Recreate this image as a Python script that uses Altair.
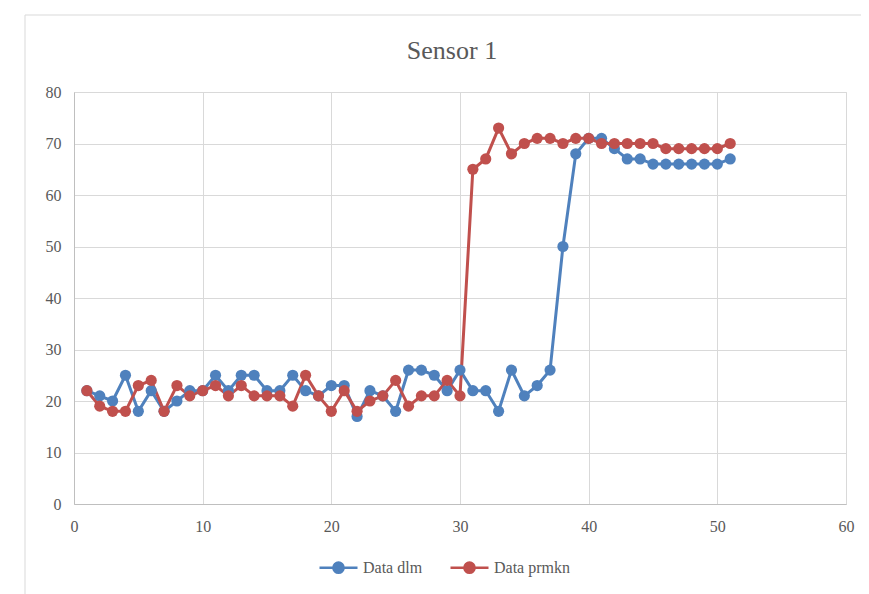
import altair as alt
import pandas as pd

x_vals = list(range(1, 52))
dlm = [22, 21, 20, 25, 18, 22, 18, 20, 22, 22,
       25, 22, 25, 25, 22, 22, 25, 22, 21, 23,
       23, 17, 22, 21, 18, 26, 26, 25, 22, 26,
       22, 22, 18, 26, 21, 23, 26, 50, 68, 71,
       71, 69, 67, 67, 66, 66, 66, 66, 66, 66, 67]
prmkn = [22, 19, 18, 18, 23, 24, 18, 23, 21, 22,
         23, 21, 23, 21, 21, 21, 19, 25, 21, 18,
         22, 18, 20, 21, 24, 19, 21, 21, 24, 21,
         65, 67, 73, 68, 70, 71, 71, 70, 71, 71,
         70, 70, 70, 70, 70, 69, 69, 69, 69, 69, 70]
series_names = ["Data dlm", "Data prmkn"]
series_colors = ["#4F81BD", "#C0504D"]

df = pd.DataFrame({
    "x": x_vals * 2,
    "y": dlm + prmkn,
    "series": [series_names[0]] * len(x_vals) + [series_names[1]] * len(x_vals),
})

FONT = "Liberation Serif"
TXT = "#595959"
GRID = "#D9D9D9"

color = alt.Color(
    "series:N",
    scale=alt.Scale(domain=series_names, range=series_colors),
    legend=alt.Legend(
        title=None,
        orient="none",
        legendX=244,
        legendY=455,
        direction="horizontal",
        symbolType="M-1,0H1M0.27,0A0.27,0.27 0 1,1 -0.27,0A0.27,0.27 0 1,1 0.27,0",
        symbolSize=1444,
        symbolStrokeWidth=2.5,
        labelFont=FONT,
        labelFontSize=16,
        labelColor=TXT,
        columnPadding=22,
        labelOffset=4,
    ),
)

xenc = alt.X("x:Q", scale=alt.Scale(domain=[0, 60], nice=False),
             axis=alt.Axis(values=[0, 10, 20, 30, 40, 50, 60], title=None,
                           labelFont=FONT, labelFontSize=16, labelColor=TXT,
                           ticks=False, labelPadding=14, domainColor="#BFBFBF",
                           gridColor=GRID, labelFlush=False, labelBound=False))
yenc = alt.Y("y:Q", scale=alt.Scale(domain=[0, 80], nice=False),
             axis=alt.Axis(values=[0, 10, 20, 30, 40, 50, 60, 70, 80], title=None,
                           labelFont=FONT, labelFontSize=16, labelColor=TXT,
                           ticks=False, labelPadding=13, domainColor="#BFBFBF",
                           gridColor=GRID, labelFlush=False, labelBound=False))

base = alt.Chart(df)
lines = base.mark_line(strokeWidth=3).encode(x=xenc, y=yenc, color=color, order="x:Q")
points = base.mark_point(filled=True, size=125, opacity=1).encode(x=xenc, y=yenc, color=color)

frame_df = pd.DataFrame({"a": [0]})
frame_left = alt.Chart(frame_df).mark_rule(color=GRID, strokeWidth=1).encode(
    x=alt.value(-49), y=alt.value(-77), y2=alt.value(600))
frame_top = alt.Chart(frame_df).mark_rule(color=GRID, strokeWidth=1).encode(
    x=alt.value(-49), x2=alt.value(800), y=alt.value(-77))

chart = alt.layer(frame_left, frame_top, lines, points).properties(
    width=772,
    height=412,
    title=alt.TitleParams("Sensor 1", font=FONT, fontSize=26, color=TXT,
                          fontWeight="normal", offset=-49, anchor="middle", dx=-8),
    autosize=alt.AutoSizeParams(type="none"),
    padding={"left": 66, "top": 84, "right": 15, "bottom": 90},
).configure_view(stroke=None).configure_axis(grid=True).configure(font=FONT)

chart.save("out.html", embed_options={"renderer": "svg", "actions": False})
